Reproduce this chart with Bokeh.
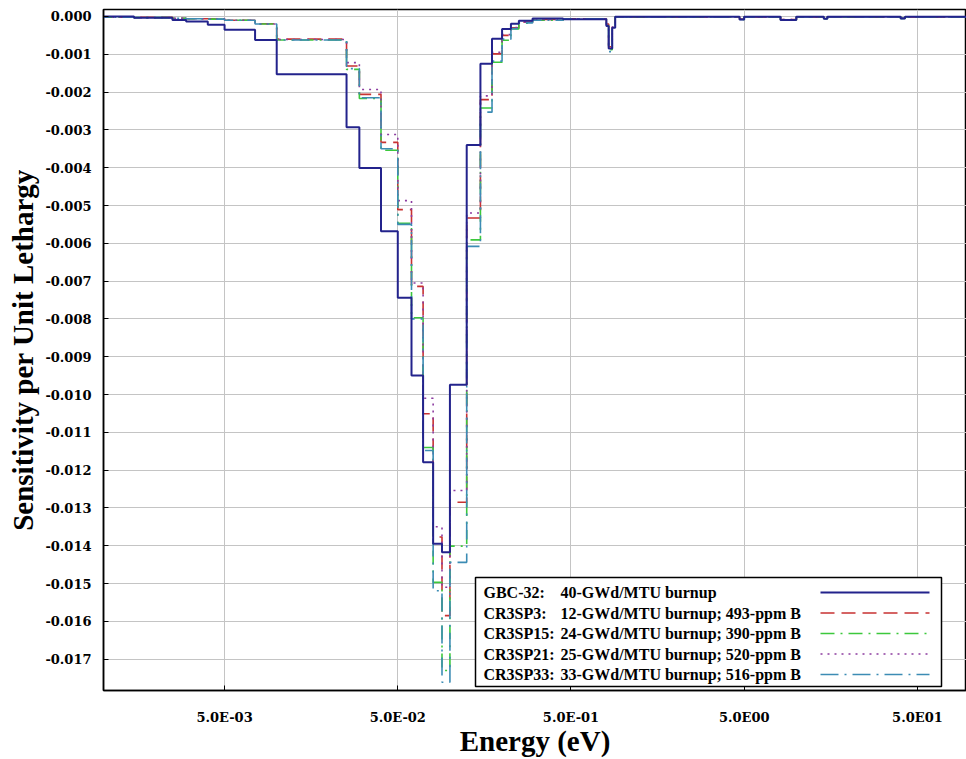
from math import log10
from bokeh.plotting import figure
from bokeh.models import Range1d, FixedTicker, BoxAnnotation, Label, Arrow
from bokeh.embed import file_html
from bokeh.resources import INLINE

# ---- data (group boundaries in eV and sensitivity per unit lethargy) ----
energy_edges = [1e-4, 1.5e-3, 2.5e-3, 3e-3, 4e-3, 5e-3, 7.5e-3, 1e-2, 2.53e-2, 3e-2,
                4e-2, 5e-2, 6e-2, 7e-2, 8e-2, 9e-2, 0.1, 0.125, 0.15, 0.175,
                0.2, 0.225, 0.25, 0.3, 0.45, 0.8, 0.825, 0.865, 0.9, 4.7,
                5.0, 8.1, 10.0, 14.4, 15.1, 40.0, 42.4, 100.0]

gbc32 = [0.0, -0.00003, -0.00009, -0.00013, -0.00022, -0.00035, -0.00062, -0.00153, -0.00293, -0.00401,
         -0.00568, -0.00744, -0.00950, -0.01179, -0.01395, -0.01417, -0.00974, -0.00340, -0.00125, -0.00059,
         -0.00033, -0.00019, -0.00011, -0.00005, -0.00007, -0.00025, -0.00085, -0.00030, -0.00001, -0.00008,
         -0.00001, -0.00009, -0.00001, -0.00006, -0.00001, -0.00005, -0.00001]
cr3sp3 = [-0.00002, -0.00002, -0.00005, -0.00006, -0.00006, -0.00010, -0.00019, -0.00060, -0.00131, -0.00206,
          -0.00333, -0.00511, -0.00714, -0.01051, -0.01377, -0.01585, -0.01285, -0.00533, -0.00220, -0.00099,
          -0.00050, -0.00030, -0.00015, -0.00008, -0.00006, -0.00020, -0.00080, -0.00028, -0.00001, -0.00007,
          -0.00001, -0.00008, -0.00001, -0.00005, -0.00001, -0.00004, -0.00001]
cr3sp15 = [-0.00002, -0.00003, -0.00005, -0.00006, -0.00007, -0.00010, -0.00020, -0.00062, -0.00140, -0.00217,
           -0.00354, -0.00547, -0.00797, -0.01140, -0.01497, -0.01730, -0.01401, -0.00591, -0.00242, -0.00121,
           -0.00063, -0.00033, -0.00018, -0.00010, -0.00006, -0.00024, -0.00088, -0.00030, -0.00001, -0.00008,
           -0.00001, -0.00009, -0.00001, -0.00006, -0.00001, -0.00005, -0.00001]
cr3sp21 = [-0.00002, -0.00003, -0.00005, -0.00006, -0.00006, -0.00010, -0.00020, -0.00061, -0.00122, -0.00193,
           -0.00312, -0.00487, -0.00705, -0.01010, -0.01350, -0.01510, -0.01254, -0.00520, -0.00210, -0.00095,
           -0.00048, -0.00029, -0.00015, -0.00008, -0.00006, -0.00022, -0.00082, -0.00028, -0.00001, -0.00007,
           -0.00001, -0.00008, -0.00001, -0.00005, -0.00001, -0.00004, -0.00001]
cr3sp33 = [-0.00002, -0.00003, -0.00005, -0.00006, -0.00007, -0.00010, -0.00020, -0.00062, -0.00138, -0.00215,
           -0.00350, -0.00550, -0.00800, -0.01148, -0.01519, -0.01761, -0.01444, -0.00608, -0.00253, -0.00118,
           -0.00060, -0.00032, -0.00017, -0.00010, -0.00006, -0.00030, -0.00093, -0.00032, -0.00001, -0.00008,
           -0.00001, -0.00009, -0.00001, -0.00006, -0.00001, -0.00005, -0.00001]

series_names = ["GBC-32:", "CR3SP3:", "CR3SP15:", "CR3SP21:", "CR3SP33:"]
series_desc = ["40-GWd/MTU burnup",
               "12-GWd/MTU burnup; 493-ppm B",
               "24-GWd/MTU burnup; 390-ppm B",
               "25-GWd/MTU burnup; 520-ppm B",
               "33-GWd/MTU burnup; 516-ppm B"]
series_values = [gbc32, cr3sp3, cr3sp15, cr3sp21, cr3sp33]

x_ticks = [5e-3, 5e-2, 0.5, 5.0, 50.0]
x_tick_labels = ["5.0E-03", "5.0E-02", "5.0E-01", "5.0E00", "5.0E01"]
y_ticks = [0.0, -0.001, -0.002, -0.003, -0.004, -0.005, -0.006, -0.007, -0.008,
           -0.009, -0.010, -0.011, -0.012, -0.013, -0.014, -0.015, -0.016, -0.017]
y_tick_labels = ["0.000", "-0.001", "-0.002", "-0.003", "-0.004", "-0.005", "-0.006",
                 "-0.007", "-0.008", "-0.009", "-0.010", "-0.011", "-0.012", "-0.013",
                 "-0.014", "-0.015", "-0.016", "-0.017"]

# ---- styles ----
colors = ["#23238c", "#c83232", "#3cc83c", "#8c3ca0", "#3c8cb4"]
dashes = ["solid", "14 7", "14 6 2 6", "2 5", "18 6 2 6"]
widths = [2.0, 1.6, 1.6, 1.6, 1.6]

X0, X1 = 1e-3, 96.0
Y0, Y1 = -0.01783, 0.000185
FW, FH = 863, 681


def fx(px):
    return 10 ** (log10(X0) + px / FW * (log10(X1) - log10(X0)))


def fy(py):
    return Y1 - py / FH * (Y1 - Y0)


p = figure(width=966, height=759, x_axis_type="log",
           x_range=Range1d(X0, X1), y_range=Range1d(Y0, Y1),
           output_backend="svg", toolbar_location=None,
           min_border_left=103, min_border_right=0, min_border_top=9, min_border_bottom=69,
           background_fill_color="white", border_fill_color="white")

p.outline_line_color = "black"
p.outline_line_width = 1.5

order = [1, 2, 3, 4, 0]
for i in order:
    vals = series_values[i]
    p.step(x=energy_edges, y=vals + [vals[-1]], mode="after",
           line_color=colors[i], line_width=widths[i], line_dash=dashes[i])

# axes
tick_font = "DejaVu Serif"
p.xaxis.ticker = FixedTicker(ticks=x_ticks)
p.xaxis.major_label_overrides = dict(zip(x_ticks, x_tick_labels))
p.yaxis.ticker = FixedTicker(ticks=y_ticks)
p.yaxis.major_label_overrides = dict(zip(y_ticks, y_tick_labels))
for ax in (p.xaxis, p.yaxis):
    ax.major_label_text_font = tick_font
    ax.major_label_text_font_style = "bold"
    ax.major_label_text_font_size = "13px"
    ax.major_label_text_color = "black"
    ax.major_tick_in = 5
    ax.major_tick_out = 0
    ax.minor_tick_line_color = None
    ax.axis_line_color = "black"
    ax.axis_line_width = 1.5
    ax.major_tick_line_color = "black"
    ax.axis_label_text_font = "Liberation Serif"
    ax.axis_label_text_font_style = "bold"
    ax.axis_label_text_font_size = "29px"
    ax.axis_label_text_color = "black"
p.xaxis.axis_label = "Energy (eV)"
p.yaxis.axis_label = "Sensitivity per Unit Lethargy"
p.xaxis.major_label_standoff = 19
p.xaxis.axis_label_standoff = -3
p.yaxis.major_label_standoff = 12
p.yaxis.axis_label_standoff = 3

p.xgrid.ticker = FixedTicker(ticks=x_ticks)
p.ygrid.ticker = FixedTicker(ticks=y_ticks)
for g in (p.xgrid, p.ygrid):
    g.grid_line_color = "#c4c4c4"
    g.grid_line_width = 1

# ---- legend (box with labels on the left, line samples on the right) ----
box = BoxAnnotation(left=fx(372), right=fx(838), top=fy(568), bottom=fy(677),
                    fill_color="white", fill_alpha=1.0,
                    line_color="black", line_width=1.5, line_alpha=1.0)
p.add_layout(box)
row_y = [583, 603.5, 624, 644.5, 665]
for i in range(5):
    yy = fy(row_y[i])
    p.add_layout(Label(x=fx(380), y=yy, text=series_names[i],
                       text_font="Liberation Serif", text_font_style="bold",
                       text_font_size="16px", text_baseline="middle", text_color="black"))
    p.add_layout(Label(x=fx(457), y=yy, text=series_desc[i],
                       text_font="Liberation Serif", text_font_style="bold",
                       text_font_size="16px", text_baseline="middle", text_color="black"))
    p.add_layout(Arrow(end=None, x_start=fx(717), y_start=yy, x_end=fx(826), y_end=yy,
                       line_color=colors[i], line_width=widths[i], line_dash=dashes[i]))

open("out.html", "w").write(file_html(p, INLINE))
